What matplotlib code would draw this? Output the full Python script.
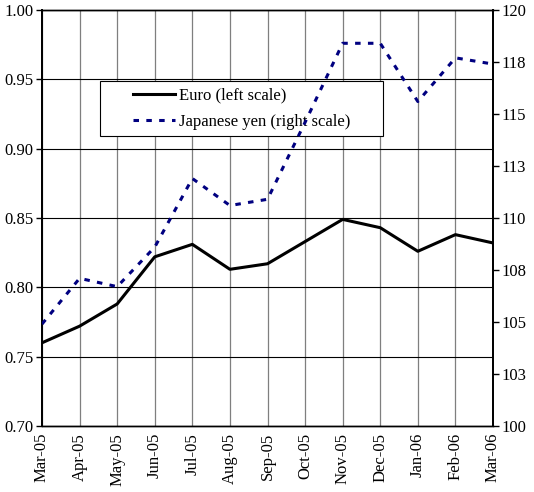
import numpy as np
import matplotlib
matplotlib.use("Agg")
from matplotlib import pyplot as plt
from matplotlib.legend_handler import HandlerLine2D

months = ["Mar-05", "Apr-05", "May-05", "Jun-05", "Jul-05", "Aug-05", "Sep-05",
          "Oct-05", "Nov-05", "Dec-05", "Jan-06", "Feb-06", "Mar-06"]
euro = [0.760, 0.772, 0.788, 0.822, 0.831, 0.813, 0.817,
        0.833, 0.849, 0.843, 0.826, 0.838, 0.832]
yen = [104.9, 107.1, 106.7, 108.6, 111.9, 110.6, 110.9,
       114.6, 118.4, 118.4, 115.6, 117.7, 117.4]
left_ticks = [0.70, 0.75, 0.80, 0.85, 0.90, 0.95, 1.00]
right_ticks = [100, 102.5, 105, 107.5, 110, 112.5, 115, 117.5, 120]
right_labels = ["100", "103", "105", "108", "110", "113", "115", "118", "120"]

plt.rcParams["font.family"] = ["Liberation Serif", "DejaVu Serif"]
plt.rcParams["font.size"] = 12

fig = plt.figure(figsize=(5.34, 4.92), dpi=100)
ax = fig.add_axes([42/534, 1-426/492, 451/534, 416/492])
ax2 = ax.twinx()

x = np.arange(len(months))

# grid: grey verticals, black horizontals
for xi in x:
    ax.axvline(xi, color="#7f7f7f", lw=0.9, zorder=0)
for yv in left_ticks:
    ax.axhline(yv, color="k", lw=0.8, zorder=0)

l1, = ax.plot(x, euro, c="k", lw=2.2, label="Euro (left scale)", zorder=3)
l2, = ax2.plot(x, yen, c="#000080", lw=2.2, dashes=(1.8, 2.4),
               label="Japanese yen (right scale)", zorder=3)

ax.set_xlim(0, len(months) - 1)
ax.set_ylim(0.70, 1.00)
ax.set_yticks(left_ticks)
ax.set_yticklabels([f"{v:.2f}" for v in left_ticks])
ax2.set_ylim(100, 120)
ax2.set_yticks(right_ticks)
ax2.set_yticklabels(right_labels)

ax.set_xticks(x)
ax.set_xticklabels(months, rotation=90)
ax.tick_params(axis="x", length=0, pad=5)
ax.tick_params(axis="y", direction="out", length=4, width=1, pad=2)
ax2.tick_params(axis="y", direction="out", length=4, width=1, pad=2)

for a in (ax, ax2):
    for s in a.spines.values():
        s.set_linewidth(1)
    a.spines["left"].set_linewidth(1.3)
    a.spines["right"].set_linewidth(1.3)

hm = {l1: HandlerLine2D(xpad=1.58), l2: HandlerLine2D(xpad=1.58)}
leg = ax2.legend(handles=[l1, l2], loc="upper left", handler_map=hm,
                 bbox_to_anchor=(0.129, 0.690, 0.627, 0.139), mode="expand",
                 frameon=True, fancybox=False, edgecolor="k", framealpha=1,
                 handlelength=4.1, handletextpad=0.2, borderaxespad=0,
                 borderpad=0.4, labelspacing=0.6)
leg.get_frame().set_linewidth(0.8)
leg.set_zorder(2)

plt.savefig("out.png", dpi=100)
plt.close()
